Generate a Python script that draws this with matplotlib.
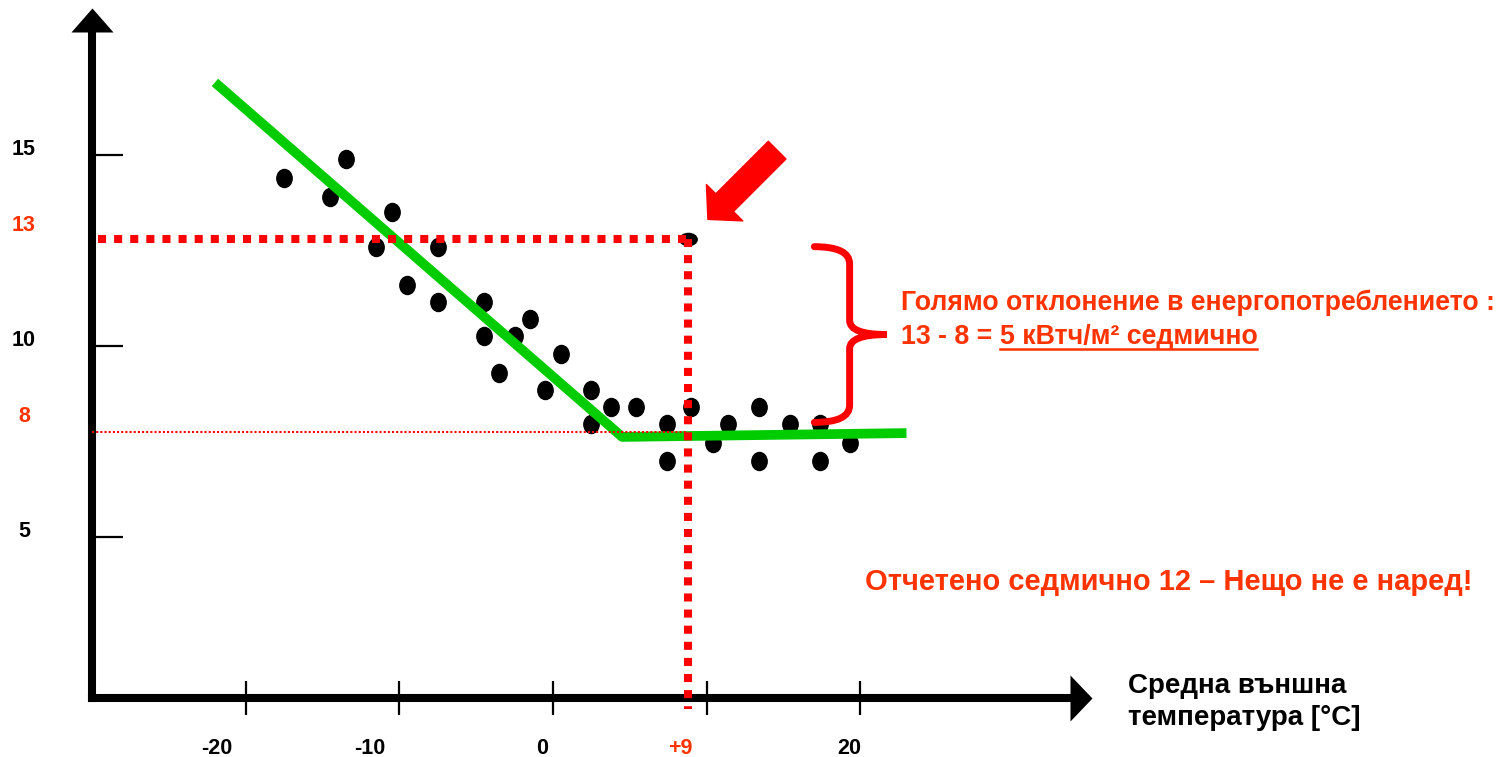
import matplotlib
matplotlib.use("Agg")
import matplotlib.pyplot as plt
from matplotlib.markers import MarkerStyle
from matplotlib.transforms import Affine2D
from matplotlib.path import Path
from matplotlib.patches import PathPatch
from matplotlib.lines import Line2D

plt.rcParams['font.family'] = ['Liberation Sans', 'DejaVu Sans']
plt.rcParams['font.weight'] = 'bold'

# weekly points: outside temperature vs consumption
temp = [-17.5, -14.5, -13.5, -10.5, -11.5, -7.5, -9.5, -7.5, -4.5, -4.5, -3.5, -2.5,
        -1.5, 0.5, -0.5, 2.5, 2.5, 3.8, 5.4, 7.4, 7.4, 9.0, 10.4, 11.4, 13.4, 13.4,
        15.4, 17.4, 17.4, 19.3]
energy = [14.4, 13.9, 14.9, 13.5, 12.6, 12.6, 11.6, 11.15, 11.15, 10.25, 9.3, 10.25,
          10.7, 9.8, 8.85, 8.85, 7.95, 8.4, 8.4, 7.95, 7.0, 8.4, 7.45, 7.95, 8.4, 7.0,
          7.95, 7.95, 7.0, 7.45]

# the odd week
outlier_t = 8.8
outlier_e = 12.8

# baseline model (green)
model_t = [-22.0, 4.5, 23.0]
model_e = [16.9, 7.62, 7.72]
base_e = 7.75

yticks = [5, 10, 15]
ylabels = ['15', '13', '10', '8', '5']
ylabel_vals = [15, 13, 10, 8, 5]
ylabel_cols = ['black', '#FF3300', 'black', '#FF3300', 'black']
xticks = [-20, -10, 0, 10, 20]
xlabels = ['-20', '-10', '0', '+9', '20']
xlabel_vals = [-20, -10, 0, 9, 20]
xlabel_cols = ['black', 'black', 'black', '#FF3300', 'black']

W, H = 1499, 757
fig = plt.figure(figsize=(W / 100, H / 100), dpi=100)
ax = fig.add_axes([92 / W, (H - 698) / H, (1070 - 92) / W, (698 - 32) / H])
ax.set_xlim(-30, 33.64)
ax.set_ylim(0.785, 18.22)

for s in ['top', 'right']:
    ax.spines[s].set_visible(False)
for s in ['left', 'bottom']:
    ax.spines[s].set_linewidth(5.8)
    ax.spines[s].set_capstyle('projecting')
ax.set_xticks(xticks)
ax.set_yticks(yticks)
ax.tick_params(axis='x', direction='inout', length=24, width=1.6, labelbottom=False)
ax.tick_params(axis='y', direction='in', length=22, width=1.6, labelleft=False)

# axis arrow heads
up = MarkerStyle([(-21, 0), (21, 0), (0, 24), (-21, 0)])
right = MarkerStyle([(0, -23), (0, 23), (22, 0), (0, -23)])
ax.plot([0], [1], marker=up, markersize=34.6, color='black', mew=0,
        transform=ax.transAxes, clip_on=False)
ax.plot([1], [0], marker=right, markersize=33.1, color='black', mew=0,
        transform=ax.transAxes, clip_on=False)

# tick labels
for v, lab, c in zip(ylabel_vals, ylabels, ylabel_cols):
    ax.annotate(lab, xy=(-30, v), xytext=(-49, 4), textcoords='offset points',
                ha='center', va='center', fontsize=15.5, color=c, fontweight='bold')
for v, lab, c in zip(xlabel_vals, xlabels, xlabel_cols):
    dx = -21 if v < 0 else -8
    ax.annotate(lab, xy=(v, 0.785), xytext=(dx, -36), textcoords='offset points',
                ha='center', va='center', fontsize=15.5, color=c, fontweight='bold')

# points
dot = MarkerStyle('o', transform=Affine2D().scale(0.85, 1.0))
ax.plot(temp, energy, ls='none', marker=dot, markersize=13, color='black', zorder=3)
odd = MarkerStyle('o', transform=Affine2D().scale(1.0, 0.7))
ax.plot([outlier_t], [outlier_e], ls='none', marker=odd, markersize=12.5,
        color='black', zorder=3)

# model line
ax.plot(model_t, model_e, color='#00CC00', lw=7, solid_capstyle='butt', zorder=4)

# reference lines
ax.plot([-29.6, outlier_t], [outlier_e, outlier_e], color='#FF0000', lw=5.8,
        ls=(0, (1, 1)), dash_capstyle='butt', zorder=5, clip_on=False)
ax.plot([outlier_t, outlier_t], [outlier_e, 0.5], color='#FF0000', lw=5.8,
        ls=(0, (1, 1)), dash_capstyle='butt', zorder=5, clip_on=False)
ax.plot([-30, outlier_t], [base_e, base_e], color='#FF0000', lw=1.5,
        ls=(0, (1, 1)), zorder=5)

# big arrow to the odd week
ax.annotate('', xy=(outlier_t, outlier_e), xytext=(64, 64), textcoords='offset points',
            arrowprops=dict(arrowstyle='simple,head_width=37,head_length=17,tail_width=18',
                            mutation_scale=1, color='#FF0000', shrinkA=0, shrinkB=20),
            zorder=6)

# curly brace
x0, xv, xt = 17.0, 19.3, 21.7
yt, yb = outlier_e - 0.2, base_e + 0.25
ym = (yt + yb) / 2
r, rm = 0.45, 0.37
verts = [(x0, yt), (xv, yt), (xv, yt - r),
         (xv, ym + rm), (xv, ym), (xt, ym),
         (xv, ym), (xv, ym - rm),
         (xv, yb + r), (xv, yb), (x0, yb)]
codes = [Path.MOVETO, Path.CURVE3, Path.CURVE3,
         Path.LINETO, Path.CURVE3, Path.CURVE3,
         Path.CURVE3, Path.CURVE3,
         Path.LINETO, Path.CURVE3, Path.CURVE3]
ax.add_patch(PathPatch(Path(verts, codes), fill=False, edgecolor='#FF0000', lw=5,
                       capstyle='round', zorder=6, clip_on=False))

# annotation texts
orange = '#FF3300'
ax.text(22.64, 11.12, 'Голямо отклонение в енергопотреблението :', fontsize=19.3,
        color=orange, va='center', ha='left')
t1 = ax.text(22.64, 10.23, '13 - 8 = ', fontsize=19.3, color=orange, va='center', ha='left')
t2 = ax.annotate('5 кВтч/м² седмично', xy=(1, 0), xycoords=t1, fontsize=19.3,
                 color=orange, va='bottom', ha='left')
ax.text(20.3, 3.82, 'Отчетено седмично 12 – Нещо не е наред!', fontsize=21,
        color=orange, va='center', ha='left')
ax.text(37.4, 0.68, 'Средна външна\nтемпература [°C]', fontsize=20, color='black',
        va='center', ha='left', linespacing=1.3)

# underline under the result
fig.canvas.draw()
bb = t2.get_window_extent()
inv = fig.transFigure.inverted()
(ux0, uy), (ux1, _) = inv.transform([(bb.x0, bb.y0 + 1), (bb.x1, bb.y0 + 1)])
fig.add_artist(Line2D([ux0, ux1], [uy, uy], color=orange, lw=1.8))

fig.savefig('out.png', dpi=100)
